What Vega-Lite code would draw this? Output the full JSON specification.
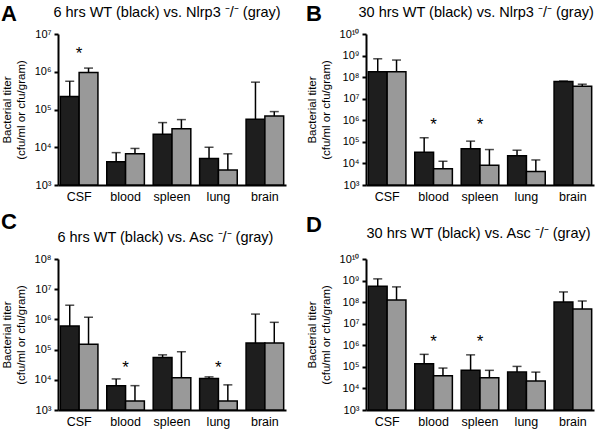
{
  "$schema": "https://vega.github.io/schema/vega-lite/v6.json",
  "background": "white",
  "padding": {"left": 1, "top": 3, "right": 2, "bottom": 2},
  "config": {
    "view": {"stroke": null},
    "font": "Liberation Sans",
    "title": {"anchor": "start", "frame": "bounds", "font": "Liberation Sans", "fontSize": 22, "fontWeight": "bold", "color": "black", "subtitleFont": "Liberation Sans", "subtitleFontSize": 14.5, "subtitleColor": "black", "subtitleFontWeight": "normal"}
  },
  "datasets": {
    "bars": [
      {"panel": "A", "tissue": "CSF", "genotype": "WT", "value": 220000, "upper": 560000},
      {"panel": "A", "tissue": "CSF", "genotype": "KO", "value": 950000, "upper": 1250000},
      {"panel": "A", "tissue": "blood", "genotype": "WT", "value": 4100, "upper": 7200},
      {"panel": "A", "tissue": "blood", "genotype": "KO", "value": 6700, "upper": 9300},
      {"panel": "A", "tissue": "spleen", "genotype": "WT", "value": 22000, "upper": 45000},
      {"panel": "A", "tissue": "spleen", "genotype": "KO", "value": 31000, "upper": 54000},
      {"panel": "A", "tissue": "lung", "genotype": "WT", "value": 5000, "upper": 10000},
      {"panel": "A", "tissue": "lung", "genotype": "KO", "value": 2500, "upper": 6700},
      {"panel": "A", "tissue": "brain", "genotype": "WT", "value": 55000, "upper": 530000},
      {"panel": "A", "tissue": "brain", "genotype": "KO", "value": 67000, "upper": 88000},
      {"panel": "B", "tissue": "CSF", "genotype": "WT", "value": 180000000, "upper": 710000000},
      {"panel": "B", "tissue": "CSF", "genotype": "KO", "value": 180000000, "upper": 620000000},
      {"panel": "B", "tissue": "blood", "genotype": "WT", "value": 33000, "upper": 155000},
      {"panel": "B", "tissue": "blood", "genotype": "KO", "value": 5600, "upper": 12600},
      {"panel": "B", "tissue": "spleen", "genotype": "WT", "value": 48000, "upper": 108000},
      {"panel": "B", "tissue": "spleen", "genotype": "KO", "value": 8300, "upper": 44000},
      {"panel": "B", "tissue": "lung", "genotype": "WT", "value": 23000, "upper": 41000},
      {"panel": "B", "tissue": "lung", "genotype": "KO", "value": 4200, "upper": 14500},
      {"panel": "B", "tissue": "brain", "genotype": "WT", "value": 63000000, "upper": 66000000},
      {"panel": "B", "tissue": "brain", "genotype": "KO", "value": 38000000, "upper": 47000000},
      {"panel": "C", "tissue": "CSF", "genotype": "WT", "value": 600000, "upper": 2950000},
      {"panel": "C", "tissue": "CSF", "genotype": "KO", "value": 150000, "upper": 1180000},
      {"panel": "C", "tissue": "blood", "genotype": "WT", "value": 6400, "upper": 10700},
      {"panel": "C", "tissue": "blood", "genotype": "KO", "value": 2000, "upper": 6400},
      {"panel": "C", "tissue": "spleen", "genotype": "WT", "value": 55000, "upper": 67000},
      {"panel": "C", "tissue": "spleen", "genotype": "KO", "value": 11600, "upper": 85000},
      {"panel": "C", "tissue": "lung", "genotype": "WT", "value": 11000, "upper": 12500},
      {"panel": "C", "tissue": "lung", "genotype": "KO", "value": 2000, "upper": 6800},
      {"panel": "C", "tissue": "brain", "genotype": "WT", "value": 165000, "upper": 1500000},
      {"panel": "C", "tissue": "brain", "genotype": "KO", "value": 165000, "upper": 800000},
      {"panel": "D", "tissue": "CSF", "genotype": "WT", "value": 550000000, "upper": 1200000000},
      {"panel": "D", "tissue": "CSF", "genotype": "KO", "value": 126000000, "upper": 510000000},
      {"panel": "D", "tissue": "blood", "genotype": "WT", "value": 140000, "upper": 380000},
      {"panel": "D", "tissue": "blood", "genotype": "KO", "value": 39000, "upper": 88000},
      {"panel": "D", "tissue": "spleen", "genotype": "WT", "value": 69000, "upper": 360000},
      {"panel": "D", "tissue": "spleen", "genotype": "KO", "value": 31000, "upper": 69000},
      {"panel": "D", "tissue": "lung", "genotype": "WT", "value": 57000, "upper": 105000},
      {"panel": "D", "tissue": "lung", "genotype": "KO", "value": 22000, "upper": 57000},
      {"panel": "D", "tissue": "brain", "genotype": "WT", "value": 102000000, "upper": 297000000},
      {"panel": "D", "tissue": "brain", "genotype": "KO", "value": 48000000, "upper": 113000000}
    ],
    "stars": [
      {"panel": "A", "tissue": "CSF", "pos": 3700000, "label": "*"},
      {"panel": "B", "tissue": "blood", "pos": 930000, "label": "*"},
      {"panel": "B", "tissue": "spleen", "pos": 930000, "label": "*"},
      {"panel": "C", "tissue": "blood", "pos": 33000, "label": "*"},
      {"panel": "C", "tissue": "lung", "pos": 33000, "label": "*"},
      {"panel": "D", "tissue": "blood", "pos": 2200000, "label": "*"},
      {"panel": "D", "tissue": "spleen", "pos": 2200000, "label": "*"}
    ]
  },
  "columns": 2,
  "spacing": {"row": 7, "column": 20},
  "concat": [
    {
      "title": {"text": "A", "subtitle": "\u200b\u00a0\u00a0\u00a0\u00a0\u00a0\u00a0\u00a0\u00a0\u00a0\u00a0\u00a0\u00a0\u00a06 hrs WT (black) vs. Nlrp3 ⁻/⁻ (gray)", "subtitlePadding": -20, "offset": 2},
      "width": 228, "height": 151,
      "layer": [
        {
          "data": {"name": "bars"},
          "transform": [{"filter": "datum.panel == 'A'"}],
          "mark": {"type": "bar", "stroke": "black", "strokeWidth": 1.5},
          "encoding": {
            "x": {"field": "tissue", "type": "nominal", "scale": {"domain": ["CSF", "blood", "spleen", "lung", "brain"], "paddingInner": 0.19, "paddingOuter": 0.05},
              "axis": {"title": null, "ticks": false, "grid": false, "domainWidth": 2, "domainColor": "black", "labelAngle": 0, "labelFont": "Liberation Sans", "labelFontSize": 12.5, "labelColor": "black", "labelPadding": 5}},
            "xOffset": {"field": "genotype", "type": "nominal", "scale": {"domain": ["WT", "KO"], "paddingInner": 0, "paddingOuter": 0}},
            "y": {"field": "value", "type": "quantitative", "scale": {"type": "log", "domain": [1000, 10000000]},
              "axis": {"values": [1000, 10000, 100000, 1000000, 10000000], "labelExpr": "datum.value < 5000 ? '10³' : datum.value < 50000 ? '10⁴' : datum.value < 500000 ? '10⁵' : datum.value < 5000000 ? '10⁶' : datum.value < 50000000 ? '10⁷' : datum.value < 500000000 ? '10⁸' : datum.value < 5000000000 ? '10⁹' : '10¹⁰'", "title": ["Bacterial titer", "(cfu/ml or cfu/gram)"], "grid": false, "domainWidth": 2, "domainColor": "black", "tickColor": "black", "tickWidth": 2, "tickSize": 4, "labelFont": "Liberation Sans", "labelFontSize": 11, "labelColor": "black", "labelPadding": 3, "titleFont": "Liberation Sans", "titleFontSize": 11.5, "titleFontWeight": "normal", "titleColor": "black", "titleLineHeight": 14, "titlePadding": 8}},
            "y2": {"datum": 1000},
            "fill": {"field": "genotype", "type": "nominal", "scale": {"domain": ["WT", "KO"], "range": ["#1e1e1e", "#999999"]}, "legend": null}
          }
        },
        {
          "data": {"name": "bars"},
          "transform": [{"filter": "datum.panel == 'A'"}],
          "mark": {"type": "rule", "color": "black", "strokeWidth": 1.5},
          "encoding": {
            "x": {"field": "tissue", "type": "nominal"},
            "xOffset": {"field": "genotype", "type": "nominal"},
            "y": {"field": "value", "type": "quantitative"},
            "y2": {"field": "upper"}
          }
        },
        {
          "data": {"name": "bars"},
          "transform": [{"filter": "datum.panel == 'A'"}],
          "mark": {"type": "tick", "orient": "horizontal", "color": "black", "thickness": 1.5, "size": 9},
          "encoding": {
            "x": {"field": "tissue", "type": "nominal"},
            "xOffset": {"field": "genotype", "type": "nominal"},
            "y": {"field": "upper", "type": "quantitative"}
          }
        },
        {
          "data": {"name": "stars"},
          "transform": [{"filter": "datum.panel == 'A'"}],
          "mark": {"type": "text", "fontSize": 17, "color": "black", "baseline": "alphabetic", "dy": 9},
          "encoding": {
            "x": {"field": "tissue", "type": "nominal"},
            "y": {"field": "pos", "type": "quantitative"},
            "text": {"field": "label"}
          }
        }
      ]
    },
    {
      "title": {"text": "B", "subtitle": "\u200b\u00a0\u00a0\u00a0\u00a0\u00a0\u00a0\u00a0\u00a0\u00a0\u00a0\u00a0\u00a0\u00a030 hrs WT (black) vs. Nlrp3 ⁻/⁻ (gray)", "subtitlePadding": -20, "offset": 2},
      "width": 228, "height": 151,
      "layer": [
        {
          "data": {"name": "bars"},
          "transform": [{"filter": "datum.panel == 'B'"}],
          "mark": {"type": "bar", "stroke": "black", "strokeWidth": 1.5},
          "encoding": {
            "x": {"field": "tissue", "type": "nominal", "scale": {"domain": ["CSF", "blood", "spleen", "lung", "brain"], "paddingInner": 0.19, "paddingOuter": 0.05},
              "axis": {"title": null, "ticks": false, "grid": false, "domainWidth": 2, "domainColor": "black", "labelAngle": 0, "labelFont": "Liberation Sans", "labelFontSize": 12.5, "labelColor": "black", "labelPadding": 5}},
            "xOffset": {"field": "genotype", "type": "nominal", "scale": {"domain": ["WT", "KO"], "paddingInner": 0, "paddingOuter": 0}},
            "y": {"field": "value", "type": "quantitative", "scale": {"type": "log", "domain": [1000, 10000000000]},
              "axis": {"values": [1000, 10000, 100000, 1000000, 10000000, 100000000, 1000000000, 10000000000], "labelExpr": "datum.value < 5000 ? '10³' : datum.value < 50000 ? '10⁴' : datum.value < 500000 ? '10⁵' : datum.value < 5000000 ? '10⁶' : datum.value < 50000000 ? '10⁷' : datum.value < 500000000 ? '10⁸' : datum.value < 5000000000 ? '10⁹' : '10¹⁰'", "title": ["Bacterial titer", "(cfu/ml or cfu/gram)"], "grid": false, "domainWidth": 2, "domainColor": "black", "tickColor": "black", "tickWidth": 2, "tickSize": 4, "labelFont": "Liberation Sans", "labelFontSize": 11, "labelColor": "black", "labelPadding": 3, "titleFont": "Liberation Sans", "titleFontSize": 11.5, "titleFontWeight": "normal", "titleColor": "black", "titleLineHeight": 14, "titlePadding": 8}},
            "y2": {"datum": 1000},
            "fill": {"field": "genotype", "type": "nominal", "scale": {"domain": ["WT", "KO"], "range": ["#1e1e1e", "#999999"]}, "legend": null}
          }
        },
        {
          "data": {"name": "bars"},
          "transform": [{"filter": "datum.panel == 'B'"}],
          "mark": {"type": "rule", "color": "black", "strokeWidth": 1.5},
          "encoding": {
            "x": {"field": "tissue", "type": "nominal"},
            "xOffset": {"field": "genotype", "type": "nominal"},
            "y": {"field": "value", "type": "quantitative"},
            "y2": {"field": "upper"}
          }
        },
        {
          "data": {"name": "bars"},
          "transform": [{"filter": "datum.panel == 'B'"}],
          "mark": {"type": "tick", "orient": "horizontal", "color": "black", "thickness": 1.5, "size": 9},
          "encoding": {
            "x": {"field": "tissue", "type": "nominal"},
            "xOffset": {"field": "genotype", "type": "nominal"},
            "y": {"field": "upper", "type": "quantitative"}
          }
        },
        {
          "data": {"name": "stars"},
          "transform": [{"filter": "datum.panel == 'B'"}],
          "mark": {"type": "text", "fontSize": 17, "color": "black", "baseline": "alphabetic", "dy": 9},
          "encoding": {
            "x": {"field": "tissue", "type": "nominal"},
            "y": {"field": "pos", "type": "quantitative"},
            "text": {"field": "label"}
          }
        }
      ]
    },
    {
      "title": {"text": "C", "subtitle": "\u200b\u00a0\u00a0\u00a0\u00a0\u00a0\u00a0\u00a0\u00a0\u00a0\u00a0\u00a0\u00a0\u00a0\u00a06 hrs WT (black) vs. Asc ⁻/⁻ (gray)", "subtitlePadding": -3, "offset": 8},
      "width": 228, "height": 151,
      "layer": [
        {
          "data": {"name": "bars"},
          "transform": [{"filter": "datum.panel == 'C'"}],
          "mark": {"type": "bar", "stroke": "black", "strokeWidth": 1.5},
          "encoding": {
            "x": {"field": "tissue", "type": "nominal", "scale": {"domain": ["CSF", "blood", "spleen", "lung", "brain"], "paddingInner": 0.19, "paddingOuter": 0.05},
              "axis": {"title": null, "ticks": false, "grid": false, "domainWidth": 2, "domainColor": "black", "labelAngle": 0, "labelFont": "Liberation Sans", "labelFontSize": 12.5, "labelColor": "black", "labelPadding": 5}},
            "xOffset": {"field": "genotype", "type": "nominal", "scale": {"domain": ["WT", "KO"], "paddingInner": 0, "paddingOuter": 0}},
            "y": {"field": "value", "type": "quantitative", "scale": {"type": "log", "domain": [1000, 100000000]},
              "axis": {"values": [1000, 10000, 100000, 1000000, 10000000, 100000000], "labelExpr": "datum.value < 5000 ? '10³' : datum.value < 50000 ? '10⁴' : datum.value < 500000 ? '10⁵' : datum.value < 5000000 ? '10⁶' : datum.value < 50000000 ? '10⁷' : datum.value < 500000000 ? '10⁸' : datum.value < 5000000000 ? '10⁹' : '10¹⁰'", "title": ["Bacterial titer", "(cfu/ml or cfu/gram)"], "grid": false, "domainWidth": 2, "domainColor": "black", "tickColor": "black", "tickWidth": 2, "tickSize": 4, "labelFont": "Liberation Sans", "labelFontSize": 11, "labelColor": "black", "labelPadding": 3, "titleFont": "Liberation Sans", "titleFontSize": 11.5, "titleFontWeight": "normal", "titleColor": "black", "titleLineHeight": 14, "titlePadding": 8}},
            "y2": {"datum": 1000},
            "fill": {"field": "genotype", "type": "nominal", "scale": {"domain": ["WT", "KO"], "range": ["#1e1e1e", "#999999"]}, "legend": null}
          }
        },
        {
          "data": {"name": "bars"},
          "transform": [{"filter": "datum.panel == 'C'"}],
          "mark": {"type": "rule", "color": "black", "strokeWidth": 1.5},
          "encoding": {
            "x": {"field": "tissue", "type": "nominal"},
            "xOffset": {"field": "genotype", "type": "nominal"},
            "y": {"field": "value", "type": "quantitative"},
            "y2": {"field": "upper"}
          }
        },
        {
          "data": {"name": "bars"},
          "transform": [{"filter": "datum.panel == 'C'"}],
          "mark": {"type": "tick", "orient": "horizontal", "color": "black", "thickness": 1.5, "size": 9},
          "encoding": {
            "x": {"field": "tissue", "type": "nominal"},
            "xOffset": {"field": "genotype", "type": "nominal"},
            "y": {"field": "upper", "type": "quantitative"}
          }
        },
        {
          "data": {"name": "stars"},
          "transform": [{"filter": "datum.panel == 'C'"}],
          "mark": {"type": "text", "fontSize": 17, "color": "black", "baseline": "alphabetic", "dy": 9},
          "encoding": {
            "x": {"field": "tissue", "type": "nominal"},
            "y": {"field": "pos", "type": "quantitative"},
            "text": {"field": "label"}
          }
        }
      ]
    },
    {
      "title": {"text": "D", "subtitle": "\u200b\u00a0\u00a0\u00a0\u00a0\u00a0\u00a0\u00a0\u00a0\u00a0\u00a0\u00a0\u00a0\u00a0\u00a0\u00a030 hrs WT (black) vs. Asc ⁻/⁻ (gray)", "subtitlePadding": -10, "offset": 12},
      "width": 228, "height": 151,
      "layer": [
        {
          "data": {"name": "bars"},
          "transform": [{"filter": "datum.panel == 'D'"}],
          "mark": {"type": "bar", "stroke": "black", "strokeWidth": 1.5},
          "encoding": {
            "x": {"field": "tissue", "type": "nominal", "scale": {"domain": ["CSF", "blood", "spleen", "lung", "brain"], "paddingInner": 0.19, "paddingOuter": 0.05},
              "axis": {"title": null, "ticks": false, "grid": false, "domainWidth": 2, "domainColor": "black", "labelAngle": 0, "labelFont": "Liberation Sans", "labelFontSize": 12.5, "labelColor": "black", "labelPadding": 5}},
            "xOffset": {"field": "genotype", "type": "nominal", "scale": {"domain": ["WT", "KO"], "paddingInner": 0, "paddingOuter": 0}},
            "y": {"field": "value", "type": "quantitative", "scale": {"type": "log", "domain": [1000, 10000000000]},
              "axis": {"values": [1000, 10000, 100000, 1000000, 10000000, 100000000, 1000000000, 10000000000], "labelExpr": "datum.value < 5000 ? '10³' : datum.value < 50000 ? '10⁴' : datum.value < 500000 ? '10⁵' : datum.value < 5000000 ? '10⁶' : datum.value < 50000000 ? '10⁷' : datum.value < 500000000 ? '10⁸' : datum.value < 5000000000 ? '10⁹' : '10¹⁰'", "title": ["Bacterial titer", "(cfu/ml or cfu/gram)"], "grid": false, "domainWidth": 2, "domainColor": "black", "tickColor": "black", "tickWidth": 2, "tickSize": 4, "labelFont": "Liberation Sans", "labelFontSize": 11, "labelColor": "black", "labelPadding": 3, "titleFont": "Liberation Sans", "titleFontSize": 11.5, "titleFontWeight": "normal", "titleColor": "black", "titleLineHeight": 14, "titlePadding": 8}},
            "y2": {"datum": 1000},
            "fill": {"field": "genotype", "type": "nominal", "scale": {"domain": ["WT", "KO"], "range": ["#1e1e1e", "#999999"]}, "legend": null}
          }
        },
        {
          "data": {"name": "bars"},
          "transform": [{"filter": "datum.panel == 'D'"}],
          "mark": {"type": "rule", "color": "black", "strokeWidth": 1.5},
          "encoding": {
            "x": {"field": "tissue", "type": "nominal"},
            "xOffset": {"field": "genotype", "type": "nominal"},
            "y": {"field": "value", "type": "quantitative"},
            "y2": {"field": "upper"}
          }
        },
        {
          "data": {"name": "bars"},
          "transform": [{"filter": "datum.panel == 'D'"}],
          "mark": {"type": "tick", "orient": "horizontal", "color": "black", "thickness": 1.5, "size": 9},
          "encoding": {
            "x": {"field": "tissue", "type": "nominal"},
            "xOffset": {"field": "genotype", "type": "nominal"},
            "y": {"field": "upper", "type": "quantitative"}
          }
        },
        {
          "data": {"name": "stars"},
          "transform": [{"filter": "datum.panel == 'D'"}],
          "mark": {"type": "text", "fontSize": 17, "color": "black", "baseline": "alphabetic", "dy": 9},
          "encoding": {
            "x": {"field": "tissue", "type": "nominal"},
            "y": {"field": "pos", "type": "quantitative"},
            "text": {"field": "label"}
          }
        }
      ]
    }
  ]
}
